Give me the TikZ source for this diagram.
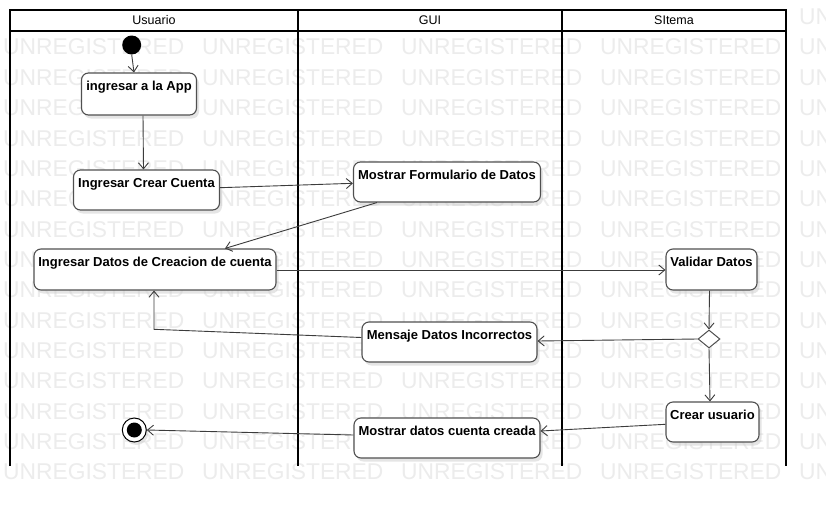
\documentclass[tikz,border=0pt]{standalone}
\usepackage{fontspec}
\setmainfont{Liberation Sans}
\usepackage{xcolor}
\usetikzlibrary{arrows.meta,positioning,calc,shapes.geometric,shadows}
\definecolor{wmgray}{RGB}{236,236,236}
\definecolor{linegray}{RGB}{60,60,60}
\definecolor{boxgray}{RGB}{80,80,80}

\begin{document}
\begin{tikzpicture}[
  x=1pt, y=-1pt,
  wm/.style={anchor=base west, inner sep=0pt, text=wmgray, font=\fontsize{22.8}{23}\selectfont},
  lane/.style={line width=2pt, black},
  lanehead/.style={font=\fontsize{12.5}{14}\selectfont, inner sep=0pt},
  act/.style={draw=boxgray, line width=1.1pt, rounded corners=7pt, fill=white,
    font=\fontsize{13}{15}\bfseries, inner xsep=4pt, inner ysep=3pt,
    text height=14pt, text depth=20pt,
    drop shadow={shadow xshift=2.5pt, shadow yshift=-3.5pt, fill=black!20, opacity=.5}},
  dec/.style={diamond, draw=boxgray, line width=1pt, fill=white, inner sep=0pt,
    minimum width=22pt, minimum height=18pt},
  flow/.style={draw=linegray, line width=0.9pt, -{Straight Barb[length=6pt,width=10pt]}},
  >={Straight Barb[length=6pt,width=10pt]}
]
\useasboundingbox (0,0) rectangle (826,506);
\fill[white] (0,0) rectangle (826,506);
\begin{scope}
\clip (0,0) rectangle (826,506);
\node[wm] (wm-0-4) at (799,24.6) {UNREGISTERED};
\foreach \r in {1,...,15}
  \foreach \c in {0,...,4}
    \node[wm] (wm-\r-\c) at ({3+199*\c},{24.6+30.35*\r}) {UNREGISTERED};
\end{scope}

\fill[white] (10,10) rectangle (786,31);
\draw[lane] (10,466) -- (10,10) -- (786,10) -- (786,466);
\draw[lane] (10,31) -- (786,31);
\draw[lane] (298,10) -- (298,466);
\draw[lane] (562,10) -- (562,466);
\node[lanehead] (hUsuario) at (154,20.5) {Usuario};
\node[lanehead] (hGUI) at (430,20.5) {GUI};
\node[lanehead] (hSistema) at (674,20.5) {SItema};

\node[circle, fill=black, minimum size=19pt, inner sep=0pt] (init) at (131.7,45) {};
\node[act, minimum width=115pt, text depth=22pt] (app) at (139,94) {ingresar a la App};
\node[act, minimum width=146pt] (crear) at (146.5,190) {Ingresar Crear Cuenta};
\node[act, minimum width=187pt] (form) at (447,182) {Mostrar Formulario de Datos};
\node[act, minimum width=242pt, text depth=21pt] (datos) at (155,269.5) {Ingresar Datos de Creacion de cuenta};
\node[act, minimum width=91pt, text depth=21pt] (valid) at (711.5,269.5) {Validar Datos};
\node[dec] (decision) at (709,339) {};
\node[act, minimum width=175pt] (mensaje) at (449.5,342) {Mensaje Datos Incorrectos};
\node[act, minimum width=93pt] (crearU) at (712.5,422) {Crear usuario};
\node[act, minimum width=186pt] (mostrar) at (447,438) {Mostrar datos cuenta creada};
\node[circle, draw=black, line width=1pt, fill=white, minimum size=24pt, inner sep=0pt,
  path picture={\fill[black] (path picture bounding box.center) circle (7.5pt);},
  drop shadow={shadow xshift=2pt, shadow yshift=-3pt, fill=black!20, opacity=.5}] (final) at (134.3,430) {};
\coordinate (back) at (154,329.3);

\draw[flow] (init.south) -- ([xshift=-5pt]app.north);
\draw[flow] ([xshift=4pt]app.south) -- ([xshift=-3pt]crear.north);
\draw[flow] ([yshift=2.3pt]crear.east) -- ([yshift=-1.3pt]form.west);
\draw[flow] ([xshift=-70pt]form.south) -- ([xshift=70pt]datos.north);
\draw[flow] ([yshift=-0.5pt]datos.east) -- ([yshift=-0.5pt]valid.west);
\draw[flow] ([xshift=-2pt]valid.south) -- (decision.north);
\draw[flow] (decision.west) -- ([yshift=1pt]mensaje.east);
\draw[flow] ([yshift=4.5pt]mensaje.west) -- (back) -- ([xshift=-1pt]datos.south);
\draw[flow] (decision.south) -- ([xshift=-2.5pt]crearU.north);
\draw[flow] ([yshift=-2.3pt]crearU.west) -- ([yshift=7pt]mostrar.east);
\draw[flow] ([yshift=3pt]mostrar.west) -- (final.east);
\end{tikzpicture}
\end{document}
